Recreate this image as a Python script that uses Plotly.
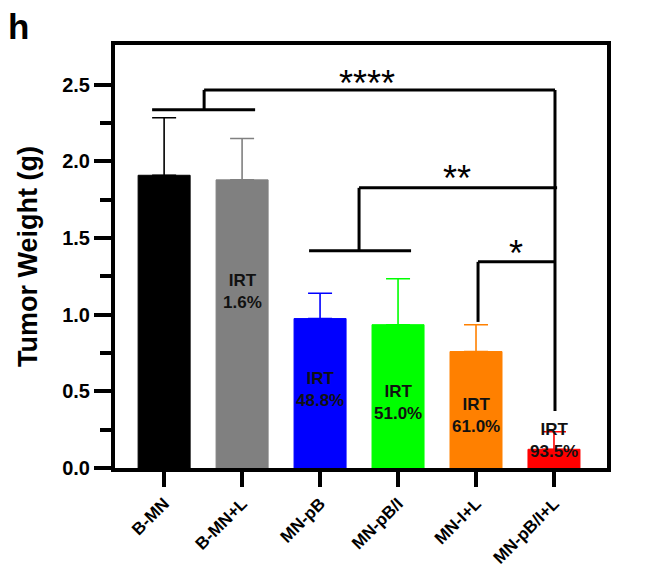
import plotly.graph_objects as go

categories = ["B-MN", "B-MN+L", "MN-pB", "MN-pB/I", "MN-I+L", "MN-pB/I+L"]
means = [1.91, 1.88, 0.975, 0.935, 0.76, 0.122]
errors = [0.375, 0.27, 0.165, 0.30, 0.175, 0.115]
colors = ["#000000", "#808080", "#0000FF", "#00FF00", "#FF8000", "#FF0000"]
irt_labels = ["", "1.6%", "48.8%", "51.0%", "61.0%", "93.5%"]
irt_label_y = [None, 1.15, 0.515, 0.425, 0.34, 0.18]

FONT = "Arial, 'Liberation Sans', sans-serif"

fig = go.Figure()
for i, cat in enumerate(categories):
    fig.add_trace(go.Bar(
        x=[cat], y=[means[i]],
        width=0.667,
        marker=dict(color=colors[i], line=dict(color=colors[i], width=1)),
        error_y=dict(type="data", array=[errors[i]], arrayminus=[0], symmetric=False,
                     color=colors[i], thickness=1.6, width=12),
        showlegend=False,
    ))

for i, lab in enumerate(irt_labels):
    if lab:
        fig.add_annotation(x=i, y=irt_label_y[i], xref="x", yref="y",
                           text="<b>IRT</b><br><b>" + lab + "</b>", showarrow=False,
                           font=dict(family=FONT, size=17, color="#111111"),
                           align="center", yanchor="middle")

line_kw = dict(color="black", width=3)
brackets = [
    # ****
    (-0.154, 2.337, 1.167, 2.337),
    (0.513, 2.337, 0.513, 2.467),
    (0.513, 2.467, 5.013, 2.467),
    (5.013, 2.467, 5.013, 0.372),
    # **
    (1.859, 1.418, 3.167, 1.418),
    (2.5, 1.418, 2.5, 1.828),
    (2.5, 1.828, 5.04, 1.828),
    # *
    (4.026, 1.345, 5.013, 1.345),
    (4.026, 1.345, 4.026, 0.953),
]
for x0, y0, x1, y1 in brackets:
    fig.add_shape(type="line", x0=x0, y0=y0, x1=x1, y1=y1, xref="x", yref="y", line=line_kw)

stars = [("****", 2.60, 2.365), ("**", 3.756, 1.74), ("*", 4.51, 1.25)]
for s, sx, sy in stars:
    fig.add_annotation(x=sx, y=sy, xref="x", yref="y", text=s, showarrow=False,
                       font=dict(family=FONT, size=36, color="black"), yanchor="bottom")

fig.add_annotation(x=-0.222, y=1.095, xref="paper", yref="paper", text="<b>h</b>",
                   showarrow=False, xanchor="left", yanchor="top",
                   font=dict(family=FONT, size=35, color="black"))

fig.update_layout(
    width=647, height=579,
    margin=dict(l=107, r=48, t=37, b=119),
    paper_bgcolor="white", plot_bgcolor="white",
    barmode="overlay",
    font=dict(family=FONT, color="black"),
)
fig.update_xaxes(
    automargin=False,
    range=[-0.63, 5.68], showline=True, linewidth=4, linecolor="black", mirror=True,
    ticks="outside", ticklen=15, tickwidth=4, tickcolor="black",
    tickangle=-45, tickfont=dict(family=FONT, size=17, color="black"),
    tickvals=categories, ticktext=["<b>%s</b>" % c for c in categories],
    showgrid=False, zeroline=False,
)
fig.update_yaxes(
    automargin=False,
    range=[0, 2.76], showline=True, linewidth=4, linecolor="black", mirror=True,
    ticks="outside", ticklen=17, tickwidth=4, tickcolor="black",
    tickvals=[0, 0.5, 1.0, 1.5, 2.0, 2.5],
    ticktext=["<b>0.0</b>", "<b>0.5</b>", "<b>1.0</b>", "<b>1.5</b>", "<b>2.0</b>", "<b>2.5</b>"],
    tickfont=dict(family=FONT, size=20, color="black"),
    minor=dict(tickvals=[0.25, 0.75, 1.25, 1.75, 2.25], ticks="outside", ticklen=11,
               tickwidth=4, tickcolor="black", showgrid=False),
    showgrid=False, zeroline=False,
    title=dict(text="<b>Tumor Weight (g)</b>", font=dict(family=FONT, size=27, color="black"),
               standoff=18),
)

fig.write_html("out.html")
